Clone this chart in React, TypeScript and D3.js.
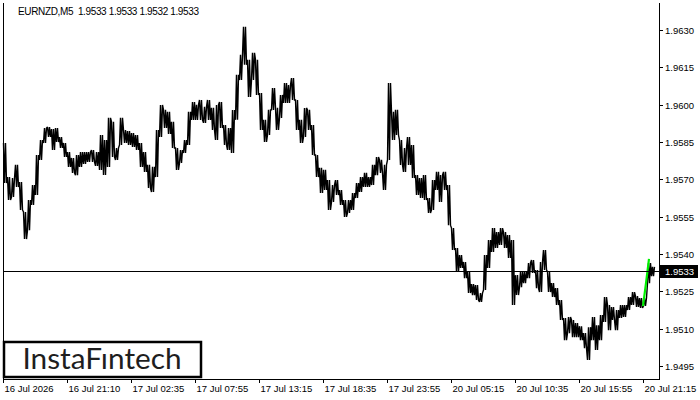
import React from 'react';
import * as d3 from 'd3';

// EURNZD M5, 4-bar buckets (20 min each)
const highs: number[] = [
  1.95846, 1.95709, 1.95705, 1.95758, 1.95689, 1.95569, 1.95617, 1.95677, 1.95798, 1.95858,
  1.95906, 1.9591, 1.95902, 1.95906, 1.9587, 1.95846, 1.9581, 1.95786, 1.95798, 1.9581,
  1.9581, 1.9581, 1.95818, 1.9581, 1.95878, 1.95858, 1.95947, 1.95931, 1.95826, 1.95947,
  1.95898, 1.95894, 1.95886, 1.95878, 1.95846, 1.9581, 1.95758, 1.9575, 1.95898, 1.95999,
  1.95979, 1.95971, 1.95931, 1.95826, 1.95818, 1.95858, 1.95971, 1.96011, 1.95999, 1.96019,
  1.95991, 1.96019, 1.95987, 1.95999, 1.96011, 1.95918, 1.95906, 1.95979, 1.9612, 1.962,
  1.96313, 1.9618, 1.96208, 1.9618, 1.96047, 1.95939, 1.95979, 1.96067, 1.95987, 1.96039,
  1.96087, 1.96079, 1.96107, 1.96019, 1.95939, 1.95987, 1.95979, 1.95918, 1.95798, 1.95746,
  1.95738, 1.95697, 1.95677, 1.95697, 1.95657, 1.95617, 1.95617, 1.95645, 1.95685, 1.95709,
  1.95726, 1.95709, 1.95758, 1.9579, 1.95778, 1.95758, 1.96087, 1.95971, 1.95979, 1.95858,
  1.95826, 1.9587, 1.95838, 1.95717, 1.95705, 1.95717, 1.95625, 1.95697, 1.9573, 1.95717,
  1.9573, 1.95677, 1.95504, 1.95424, 1.95396, 1.95368, 1.95328, 1.95279, 1.95275, 1.95243,
  1.95396, 1.95456, 1.95504, 1.95488, 1.95504, 1.95488, 1.95476, 1.95456, 1.95315, 1.95328,
  1.95328, 1.95364, 1.95376, 1.95336, 1.95368, 1.95416, 1.95328, 1.95283, 1.95263, 1.95215,
  1.95143, 1.95147, 1.95135, 1.95123, 1.9511, 1.95082, 1.95106, 1.95147, 1.95114, 1.95155,
  1.95227, 1.95195, 1.95187, 1.95175, 1.95195, 1.95195, 1.95227, 1.95247, 1.95231, 1.95223,
  1.95223, 1.95364, 1.95348,
];
const lows: number[] = [
  1.95685, 1.95617, 1.95629, 1.95669, 1.95577, 1.9546, 1.95496, 1.95597, 1.95637, 1.95778,
  1.95846, 1.9587, 1.95818, 1.9585, 1.95826, 1.9579, 1.9575, 1.95726, 1.95717, 1.9575,
  1.95762, 1.9577, 1.9577, 1.95754, 1.95738, 1.95717, 1.9575, 1.9579, 1.95778, 1.95838,
  1.95846, 1.95838, 1.9583, 1.95818, 1.9575, 1.9573, 1.95665, 1.95649, 1.95709, 1.9587,
  1.95906, 1.95882, 1.95826, 1.95738, 1.95766, 1.95806, 1.95838, 1.95939, 1.95939, 1.95939,
  1.95927, 1.95939, 1.95898, 1.95858, 1.95906, 1.95838, 1.95818, 1.95806, 1.95939, 1.96099,
  1.9616, 1.96031, 1.96099, 1.96039, 1.95898, 1.9585, 1.95878, 1.95979, 1.95898, 1.95947,
  1.96007, 1.96007, 1.96019, 1.95898, 1.95846, 1.9587, 1.95898, 1.95798, 1.95709, 1.95645,
  1.95657, 1.95577, 1.95609, 1.95637, 1.95597, 1.95549, 1.95565, 1.95577, 1.95625, 1.95649,
  1.95669, 1.95669, 1.95677, 1.95717, 1.95726, 1.95657, 1.95778, 1.95858, 1.95878, 1.95758,
  1.9573, 1.95758, 1.95705, 1.95637, 1.95625, 1.95617, 1.95565, 1.95577, 1.95657, 1.95609,
  1.95657, 1.95516, 1.95416, 1.95328, 1.95344, 1.95303, 1.95243, 1.95235, 1.95215, 1.95207,
  1.95255, 1.95344, 1.95408, 1.95424, 1.95436, 1.95424, 1.95384, 1.95195, 1.95235, 1.95267,
  1.95283, 1.95303, 1.95324, 1.95263, 1.95247, 1.95336, 1.95247, 1.95227, 1.95195, 1.95135,
  1.95054, 1.95082, 1.95066, 1.95066, 1.95054, 1.95022, 1.94974, 1.95054, 1.95014, 1.95054,
  1.95127, 1.95094, 1.95135, 1.95094, 1.95143, 1.95147, 1.95175, 1.95195, 1.95187, 1.95183,
  1.95191, 1.95283, 1.95311,
];

// green segment at the end (bar index, price)
const greenBars: number[] = [640, 643, 646];
const greenPrices: number[] = [1.95191, 1.95283, 1.9538];

const yTicks: number[] = [1.963, 1.9615, 1.96, 1.9585, 1.957, 1.9555, 1.954, 1.9525, 1.951, 1.9495];
const xTickBars: number[] = [0, 64, 128, 192, 256, 320, 384, 448, 512, 576, 640];
const xLabels: string[] = [
  '16 Jul 2026', '16 Jul 21:10', '17 Jul 02:35', '17 Jul 07:55', '17 Jul 13:15', '17 Jul 18:35',
  '17 Jul 23:55', '20 Jul 05:15', '20 Jul 10:35', '20 Jul 15:55', '20 Jul 21:15',
];

const title = 'EURNZD,M5  1.9533 1.9533 1.9532 1.9533';
const lastPrice = 1.9533;
const barsPerBucket = 4;

const W = 700;
const H = 400;
const left = 3;
const right = 659;
const top = 3;
const bottom = 379;
const font = '"Liberation Sans", Arial, sans-serif';

export default function App() {
  const x = d3.scaleLinear().domain([0, right - left]).range([left, right]);
  const y = d3.scaleLinear().domain([1.9495, 1.963]).range([366, 30]);

  // zigzag through each bucket's low and high, ordered by where price goes next
  const pts: [number, number][] = [];
  highs.forEach((h, k) => {
    const l = lows[k];
    const mid = (h + l) / 2;
    const next = k < highs.length - 1 ? (highs[k + 1] + lows[k + 1]) / 2 : mid;
    const prev = k > 0 ? (highs[k - 1] + lows[k - 1]) / 2 : mid;
    const x0 = x(k * barsPerBucket);
    const upward = next >= prev;
    const a = upward ? l : h;
    const b = upward ? h : l;
    pts.push([x0 + 0.5, y(a)]);
    pts.push([x0 + 1.5, y(b)]);
    pts.push([x0 + 2.5, y(a)]);
    pts.push([x0 + 3.5, y(b)]);
  });
  const zig = d3.line<[number, number]>()(pts) || '';

  const greenLine = d3
    .line<number>()
    .x((_, i) => x(greenBars[i]))
    .y(d => y(d));

  const py = Math.round(y(lastPrice)) + 0.5;

  return (
    <svg
      width={W}
      height={H}
      style={{ position: 'fixed', left: 0, top: 0, background: '#fff' }}
    >
      <rect x={0} y={0} width={W} height={H} fill="#fff" />

      {/* bars */}
      <path d={zig} fill="none" stroke="#000" strokeWidth={1.4} strokeLinejoin="miter" strokeMiterlimit={2} />

      <path d={greenLine(greenPrices) || ''} fill="none" stroke="#00f000" strokeWidth={2.2} />

      {/* price line */}
      <line x1={left} x2={right} y1={py} y2={py} stroke="#000" strokeWidth={1} />

      {/* frame */}
      <g stroke="#000" strokeWidth={1} shapeRendering="crispEdges" fill="none">
        <line x1={left + 0.5} x2={left + 0.5} y1={top} y2={bottom} />
        <line x1={right + 0.5} x2={right + 0.5} y1={top} y2={bottom + 1} />
        <line x1={left} x2={right + 1} y1={bottom + 0.5} y2={bottom + 0.5} />
      </g>

      {/* y axis */}
      <g fontFamily={font} fontSize={9.5} fill="#000">
        {yTicks.map(t => {
          const ty = Math.round(y(t)) + 0.5;
          return (
            <g key={t}>
              <line x1={right} x2={right + 4} y1={ty} y2={ty} stroke="#000" shapeRendering="crispEdges" />
              <text x={right + 6} y={ty} dy="0.35em">
                {d3.format('.4f')(t)}
              </text>
            </g>
          );
        })}
      </g>

      {/* last price label */}
      <rect x={right + 1} y={py - 6.5} width={W - right - 3} height={13} fill="#000" />
      <text x={right + 6} y={py} dy="0.35em" fontFamily={font} fontSize={9.5} fill="#fff">
        {d3.format('.4f')(lastPrice)}
      </text>

      {/* x axis */}
      <g fontFamily={font} fontSize={9.5} fill="#000">
        {xTickBars.map((b, i) => {
          const tx = Math.round(x(b)) + 0.5;
          return (
            <g key={b}>
              <line x1={tx} x2={tx} y1={bottom} y2={bottom + 4} stroke="#000" shapeRendering="crispEdges" />
              <text x={tx + 1} y={392}>
                {xLabels[i]}
              </text>
            </g>
          );
        })}
      </g>

      <text
        x={18}
        y={15}
        fontFamily={font}
        fontSize={10}
        fill="#000"
        textLength={181}
        lengthAdjust="spacing"
        style={{ whiteSpace: 'pre' }}
      >
        {title}
      </text>

      {/* logo */}
      <rect x={4} y={342} width={197} height={35} fill="#fff" stroke="#000" strokeWidth={2.5} />
      <text
        x={102}
        y={369}
        textAnchor="middle"
        fontFamily="Lato, 'Noto Sans', sans-serif"
        fontSize={28}
        fill="#1e1e1e"
        textLength={159}
        lengthAdjust="spacingAndGlyphs"
      >
        InstaFıntech
      </text>
    </svg>
  );
}
